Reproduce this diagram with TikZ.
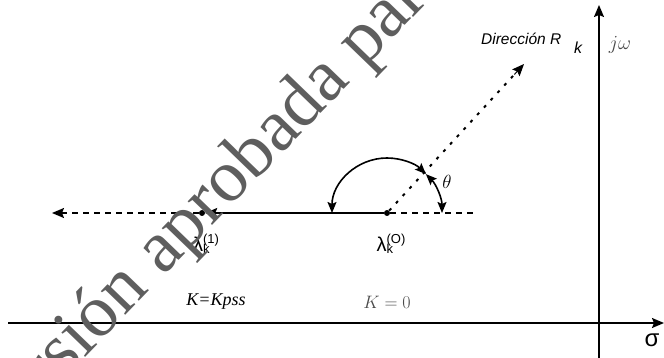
\RequirePackage{fix-cm}
\documentclass[tikz,border=0pt]{standalone}
\usepackage{fontspec}
\setmainfont{Liberation Serif}
\setsansfont{Liberation Sans}
\usetikzlibrary{arrows.meta,calc}
\definecolor{wmgray}{HTML}{5E5E5E}
\definecolor{lblgray}{HTML}{4A4A4A}
\newcommand{\lamlab}[1]{{\sffamily\fontsize{20}{20}\selectfont λ\rlap{\fontsize{13}{13}\selectfont\raisebox{-2pt}{k}}\raisebox{8pt}{\fontsize{13}{13}\selectfont(#1)}}}
\begin{document}
\begin{tikzpicture}[x=1pt,y=-1pt,
  tip/.style={-{Stealth[length=12pt,width=10pt,inset=2pt]}},
  axisline/.style={line width=1.6pt,tip},
  solidarrow/.style={line width=1.6pt,tip},
  dasharrow/.style={line width=1.6pt,dash pattern=on 6pt off 5pt},
  dotarrow/.style={line width=2pt,dash pattern=on 3pt off 7pt},
  arcline/.style={line width=1.6pt,{Stealth[length=11pt,width=9pt,inset=2pt]}-{Stealth[length=11pt,width=9pt,inset=2pt]}},
  dot/.style={circle,fill,inner sep=0pt,minimum size=6pt},
  lab/.style={inner sep=0pt}]
\useasboundingbox (0,0) rectangle (664,358);
\clip (0,0) rectangle (664,358);
% axes
\coordinate (hx0) at (8,323);
\coordinate (hx1) at (664,323);
\coordinate (vy0) at (599,360);
\coordinate (vy1) at (599,5);
\draw[axisline] (hx0) -- (hx1);
\draw[axisline] (vy0) -- (vy1);
\node[lab,font=\sffamily\fontsize{24}{24}\selectfont] (sigma) at (652,340) {σ};
\node[lab,text=lblgray,font=\fontsize{20}{20}\selectfont] (jw) at (620,45) {$j\omega$};
% points
\node[dot] (l0) at (387,213) {};
\node[dot] (l1) at (202,213) {};
\coordinate (dl) at (52,213);
\coordinate (dr) at (475,213);
\coordinate (dirtip) at (524,64);
\coordinate (dirmid) at ($(l0)!0.93!(dirtip)$);
\draw[solidarrow] (l0) -- (l1);
\draw[dasharrow,tip] (l1) -- (dl);
\draw[dasharrow] (l0) -- (dr);
\draw[dotarrow] (l0) -- (dirmid);
\draw[line width=1pt,tip] (dirmid) -- (dirtip);
% arcs
\draw[arcline] ($(l0)+(-55,0)$) arc[start angle=180,end angle=315,radius=55];
\draw[arcline] ($(l0)+(55,0)$) arc[start angle=360,end angle=315,radius=55];
\node[lab,font=\fontsize{19}{19}\selectfont] (theta) at (447,182) {$\theta$};
% labels
\node[lab,font=\sffamily\itshape\fontsize{15.5}{15.5}\selectfont,anchor=base west] (dir) at (481,45) {Dirección R};
\node[lab,font=\sffamily\itshape\fontsize{16}{16}\selectfont,anchor=base west] (dirk) at (574,54) {k};
\node[lab] (l0lab) at (391,244) {\lamlab{O}};
\node[lab] (l1lab) at (206,244) {\lamlab{1}};
\node[lab,font=\itshape\fontsize{18}{18}\selectfont] (kpss) at (216,302) {K=Kpss};
\node[lab,text=lblgray,font=\fontsize{18}{18}\selectfont] (k0) at (387,302) {$K=0$};
% watermark
\node[rotate=46,anchor=base west,inner sep=0pt,text=wmgray,font=\fontsize{74}{74}\selectfont] (wm) at (-7,453) {Versión aprobada para};
\end{tikzpicture}
\end{document}
